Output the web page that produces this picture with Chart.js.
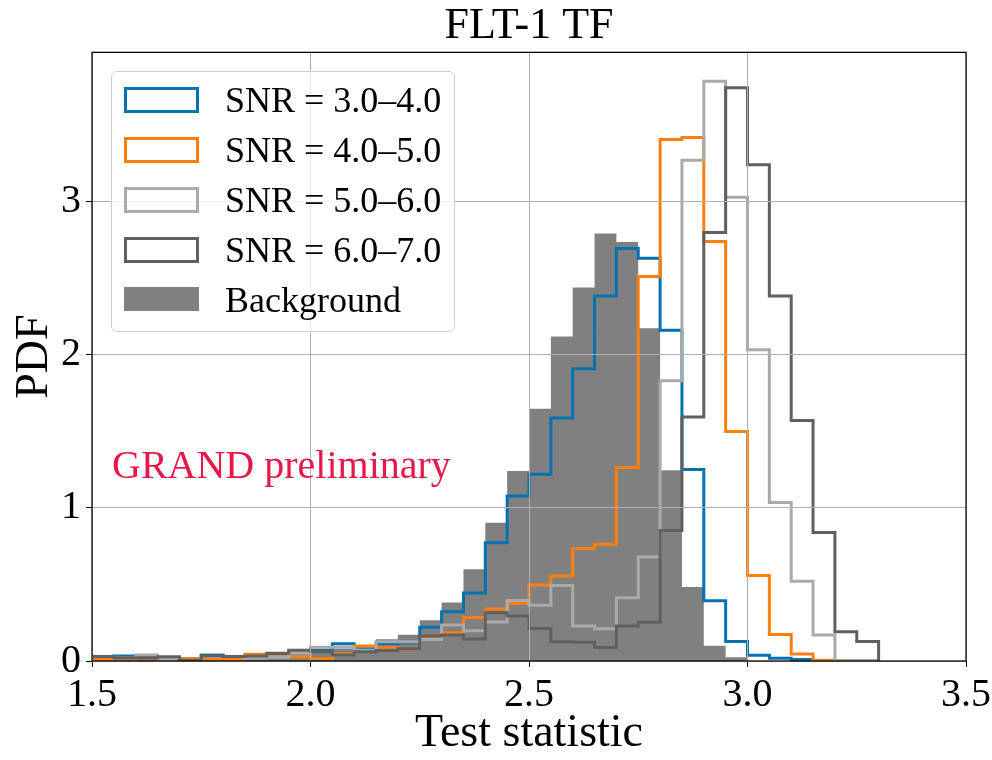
<!DOCTYPE html>
<html lang="en">
<head>
<meta charset="UTF-8" />
<title>FLT-1 TF</title>
<style>
  html, body {
    margin: 0; padding: 0;
    background: #ffffff;
  }
  #wrap {
    position: relative;
    width: 992px; height: 760px;
    font-family: 'Liberation Serif', 'DejaVu Serif', serif;
  }
  canvas { display: block; }

  /* legend box sits inside the axes, like matplotlib's upper left */
  #legend {
    position: absolute;
    left: 111px; top: 71px;
    width: 344px; height: 261px;
    box-sizing: border-box;
    border: 1px solid #d0d0d0;
    border-radius: 6px;
    background: rgba(255, 255, 255, 0.8);
  }
  .swatch {
    position: absolute;
    left: 12px;
    width: 75px; height: 26px;
    box-sizing: border-box;
  }
  .lbl {
    position: absolute;
    left: 113px;
    height: 26px;
    line-height: 26px;
    font-size: 36px;
    color: #000;
    white-space: nowrap;
  }
  #prelim {
    position: absolute;
    left: 112px; top: 445px;
    font-size: 40px;
    line-height: 40px;
    color: #e8174a;
    white-space: nowrap;
  }
</style>
</head>
<body>
<div id="wrap">
  <canvas id="histChart" width="992" height="760"></canvas>
  <div id="legend"></div>
  <div id="prelim">GRAND preliminary</div>
</div>

<script src="https://cdn.jsdelivr.net/npm/chart.js"></script>
<script>
// bin edges of the test statistic histograms (width 0.05)
const binEdges = [
  1.50, 1.55, 1.60, 1.65, 1.70, 1.75, 1.80, 1.85, 1.90, 1.95,
  2.00, 2.05, 2.10, 2.15, 2.20, 2.25, 2.30, 2.35, 2.40, 2.45,
  2.50, 2.55, 2.60, 2.65, 2.70, 2.75, 2.80, 2.85, 2.90, 2.95,
  3.00, 3.05, 3.10, 3.15, 3.20, 3.25, 3.30
];

// PDF values per bin
const snr3to4 = [
  0.02, 0.033, 0.025, 0.015, 0.01, 0.04, 0.03, 0.03, 0.04, 0.05,
  0.07, 0.113, 0.076, 0.115, 0.12, 0.22, 0.322, 0.445, 0.773, 1.078,
  1.22, 1.588, 1.91, 2.385, 2.695, 2.632, 2.161, 1.251, 0.394, 0.127,
  0.038, 0.018, 0.01, 0, 0, 0
];
const snr4to5 = [
  0.01, 0.01, 0.015, 0.01, 0.017, 0.013, 0.01, 0.044, 0.03, 0.028,
  0.017, 0.046, 0.098, 0.087, 0.078, 0.148, 0.185, 0.285, 0.34, 0.377,
  0.497, 0.556, 0.735, 0.763, 1.264, 2.512, 3.407, 3.42, 2.741, 1.50,
  0.559, 0.173, 0.046, 0.005, 0, 0
];
const snr5to6 = [
  0.03, 0.02, 0.04, 0.01, 0.005, 0.03, 0.03, 0.02, 0.024, 0.05,
  0.09, 0.09, 0.07, 0.125, 0.126, 0.14, 0.235, 0.198, 0.255, 0.395,
  0.364, 0.493, 0.229, 0.211, 0.414, 0.679, 1.831, 3.272, 3.788, 3.031,
  2.034, 1.035, 0.521, 0.17, 0, 0
];
const snr6to7 = [
  0.03, 0.02, 0.02, 0.028, 0.005, 0.035, 0.03, 0.033, 0.05, 0.07,
  0.06, 0.04, 0.06, 0.068, 0.08, 0.163, 0.17, 0.144, 0.316, 0.294,
  0.213, 0.125, 0.122, 0.089, 0.229, 0.254, 0.852, 1.594, 2.80, 3.745,
  3.242, 2.385, 1.571, 0.839, 0.191, 0.127
];
const background = [
  0.03, 0.02, 0.03, 0.02, 0.01, 0.03, 0.03, 0.03, 0.04, 0.06,
  0.08, 0.08, 0.10, 0.142, 0.172, 0.266, 0.383, 0.60, 0.904, 1.242,
  1.649, 2.12, 2.44, 2.794, 2.738, 2.174, 1.246, 0.483, 0.10, 0.025,
  0, 0, 0, 0, 0, 0
];

const seriesLabels = ['SNR = 3.0\u20134.0', 'SNR = 4.0\u20135.0', 'SNR = 5.0\u20136.0', 'SNR = 6.0\u20137.0', 'Background'];
const seriesColors = ['#0571b0', '#ff7f0e', '#aaaaaa', '#606060', '#808080'];

const xTicks = [1.5, 2.0, 2.5, 3.0, 3.5];
const xTickLabels = ['1.5', '2.0', '2.5', '3.0', '3.5'];
const yTicks = [0, 1, 2, 3];
const yTickLabels = ['0', '1', '2', '3'];

const FONT = "'Liberation Serif', 'DejaVu Serif', serif";

// turn per-bin values into points for a step ("before") line
function stepPoints(values) {
  const pts = [{ x: binEdges[0], y: 0 }];
  values.forEach((v, i) => pts.push({ x: binEdges[i], y: v }));
  pts.push({ x: binEdges[values.length], y: 0 });
  return pts;
}

function outline(idx, values, order) {
  return {
    label: seriesLabels[idx],
    data: stepPoints(values),
    stepped: 'before',
    borderColor: seriesColors[idx],
    backgroundColor: 'rgba(0,0,0,0)',
    borderWidth: 3,
    pointRadius: 0,
    fill: false,
    order: order
  };
}

const datasets = [
  outline(0, snr3to4, 4),
  outline(1, snr4to5, 3),
  outline(2, snr5to6, 2),
  outline(3, snr6to7, 1),
  {
    label: seriesLabels[4],
    data: stepPoints(background),
    stepped: 'before',
    borderWidth: 0,
    borderColor: seriesColors[4],
    backgroundColor: seriesColors[4],
    pointRadius: 0,
    fill: 'origin',
    order: 5
  }
];

// black frame on all four sides of the axes
const framePlugin = {
  id: 'frame',
  afterDraw(chart) {
    const a = chart.chartArea;
    const ctx = chart.ctx;
    ctx.save();
    ctx.strokeStyle = '#000';
    ctx.lineWidth = 1.25;
    ctx.strokeRect(a.left, a.top, a.right - a.left, a.bottom - a.top);
    ctx.restore();
  }
};

const chart = new Chart(document.getElementById('histChart').getContext('2d'), {
  type: 'line',
  data: { datasets: datasets },
  options: {
    responsive: false,
    animation: false,
    layout: { padding: { left: 0, right: 26, top: 0, bottom: 0 } },
    plugins: {
      legend: { display: false },
      tooltip: { enabled: false },
      title: {
        display: true,
        text: 'FLT-1 TF',
        fullSize: false,
        color: '#000',
        font: { family: FONT, size: 44, weight: 'normal', lineHeight: 1.19 },
        padding: 0
      }
    },
    scales: {
      x: {
        type: 'linear',
        min: 1.5,
        max: 3.5,
        afterBuildTicks: s => { s.ticks = xTicks.map(v => ({ value: v })); },
        afterFit: s => { s.height = 99; s.paddingLeft = 0; s.paddingRight = 0; },
        ticks: {
          callback: v => xTickLabels[xTicks.indexOf(v)],
          color: '#000',
          font: { family: FONT, size: 40 },
          padding: 4,
          maxRotation: 0,
          autoSkip: false
        },
        grid: { color: '#b0b0b0', lineWidth: 1, z: 1, tickColor: '#000', tickLength: 6 },
        border: { display: false },
        title: {
          display: true,
          text: 'Test statistic',
          color: '#000',
          font: { family: FONT, size: 46, lineHeight: 1 },
          padding: { top: 0, bottom: 3 }
        }
      },
      y: {
        min: 0,
        max: 3.977,
        afterBuildTicks: s => { s.ticks = yTicks.map(v => ({ value: v })); },
        afterFit: s => { s.width = 92; s.paddingTop = 0; s.paddingBottom = 0; },
        ticks: {
          callback: v => yTickLabels[yTicks.indexOf(v)],
          color: '#000',
          font: { family: FONT, size: 40 },
          padding: 5
        },
        grid: { color: '#b0b0b0', lineWidth: 1, z: 1, tickColor: '#000', tickLength: 6 },
        border: { display: false },
        title: {
          display: true,
          text: 'PDF',
          color: '#000',
          font: { family: FONT, size: 46, lineHeight: 1 },
          padding: { top: 12, bottom: 0 }
        }
      }
    }
  },
  plugins: [framePlugin]
});

// legend built from the same labels/colours, outlines as empty boxes
const legendEl = document.getElementById('legend');
seriesLabels.forEach((label, i) => {
  const top = 15 + i * 50;
  const sw = document.createElement('div');
  sw.className = 'swatch';
  sw.style.top = top + 'px';
  if (i < 4) {
    sw.style.border = '3px solid ' + seriesColors[i];
  } else {
    sw.style.background = seriesColors[i];
    sw.style.height = '24px';
  }
  const txt = document.createElement('div');
  txt.className = 'lbl';
  txt.style.top = top + 'px';
  txt.textContent = label;
  legendEl.appendChild(sw);
  legendEl.appendChild(txt);
});
</script>
</body>
</html>
